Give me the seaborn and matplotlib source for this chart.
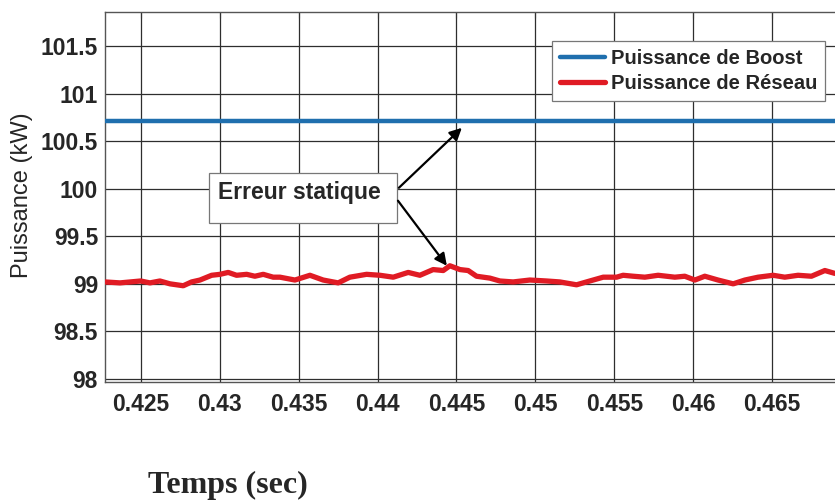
import matplotlib
matplotlib.use("Agg")
import matplotlib.pyplot as plt
from matplotlib.patches import Rectangle
import seaborn as sns
import pandas as pd

# Grid power measurement (kW) over time (s)
temps_reseau = [
    0.42272, 0.42367, 0.42498, 0.42557, 0.42620, 0.42684, 0.42768, 0.42821,
    0.42874, 0.42948, 0.43001, 0.43053, 0.43106, 0.43170, 0.43222, 0.43275,
    0.43338, 0.43381, 0.43476, 0.43571, 0.43655, 0.43750, 0.43824, 0.43930,
    0.44015, 0.44099, 0.44194, 0.44268, 0.44352, 0.44416, 0.44458, 0.44522,
    0.44574, 0.44627, 0.44712, 0.44775, 0.44859, 0.44965, 0.45071, 0.45155,
    0.45261, 0.45345, 0.45430, 0.45515, 0.45556, 0.45620, 0.45694, 0.45778,
    0.45884, 0.45947, 0.46011, 0.46074, 0.46158, 0.46254, 0.46328, 0.46412,
    0.46507, 0.46581, 0.46665, 0.46750, 0.46835, 0.46898,
]
puissance_reseau = [
    99.02, 99.01, 99.03, 99.01, 99.03, 99.00, 98.98, 99.02,
    99.04, 99.09, 99.10, 99.12, 99.09, 99.10, 99.08, 99.10,
    99.07, 99.07, 99.04, 99.09, 99.04, 99.01, 99.07, 99.10,
    99.09, 99.07, 99.12, 99.09, 99.15, 99.14, 99.19, 99.15,
    99.14, 99.08, 99.06, 99.03, 99.02, 99.04, 99.03, 99.02,
    98.99, 99.03, 99.07, 99.07, 99.09, 99.08, 99.07, 99.09,
    99.07, 99.08, 99.04, 99.08, 99.04, 99.00, 99.04, 99.07,
    99.09, 99.07, 99.09, 99.08, 99.14, 99.11,
]

# Boost converter output power (constant)
temps_boost = [0.4220, 0.4700]
puissance_boost = [100.71, 100.71]

x_ticks = [0.425, 0.43, 0.435, 0.44, 0.445, 0.45, 0.455, 0.46, 0.465]
x_tick_labels = ["0.425", "0.43", "0.435", "0.44", "0.445", "0.45", "0.455", "0.46", "0.465"]
y_ticks = [98, 98.5, 99, 99.5, 100, 100.5, 101, 101.5]
y_tick_labels = ["98", "98.5", "99", "99.5", "100", "100.5", "101", "101.5"]

label_boost = "Puissance de Boost"
label_reseau = "Puissance de Réseau"

sns.set_theme(style="white")
plt.rcParams["font.family"] = ["Liberation Sans", "DejaVu Sans"]

fig = plt.figure(figsize=(8.35, 5.03), dpi=100)
ax = fig.add_axes([105 / 835, 1 - 382 / 503, 738 / 835, 370 / 503])

df_boost = pd.DataFrame({"t": temps_boost, "p": puissance_boost})
df_reseau = pd.DataFrame({"t": temps_reseau, "p": puissance_reseau})

sns.lineplot(data=df_boost, x="t", y="p", ax=ax, color="#1f6fae",
             linewidth=3.2, label=label_boost, zorder=3)
sns.lineplot(data=df_reseau, x="t", y="p", ax=ax, color="#e01b24",
             linewidth=3.8, label=label_reseau, zorder=3)

ax.set_xlim(0.42272, 0.46950)
ax.set_ylim(97.968, 101.858)
ax.set_xticks(x_ticks)
ax.set_xticklabels(x_tick_labels, fontsize=16.5, fontweight="bold")
ax.set_yticks(y_ticks)
ax.set_yticklabels(y_tick_labels, fontsize=16.5, fontweight="bold")
ax.tick_params(axis="both", direction="in", length=4, width=0.8,
               color="#333333", top=True, right=False, pad=5)
ax.tick_params(axis="x", pad=8)

ax.grid(True, color="#2e2e2e", linewidth=0.9)
for side, sp in ax.spines.items():
    sp.set_color("#555555")
    sp.set_linewidth(1.0)
ax.spines["right"].set_visible(False)

ax.set_xlabel("")
ax.set_ylabel("")
fig.text(22 / 835, 1 - 195 / 503, "Puissance (kW)", fontsize=17,
         rotation=90, ha="center", va="center")

# Annotation box with arrows towards both curves
ax.add_patch(Rectangle((0.42931, 99.642), 0.44122 - 0.42931, 100.168 - 99.642,
                       fill=True, facecolor="white", edgecolor="#777777",
                       linewidth=0.9, zorder=4))
ax.text(0.42990, 99.96, "Erreur statique", fontsize=16.5, fontweight="bold",
        va="center", ha="left", zorder=5)
arrow_style = dict(arrowstyle="-|>", color="black", lw=1.6, mutation_scale=18,
                   shrinkA=0, shrinkB=0)
ax.annotate("", xy=(0.44534, 100.64), xytext=(0.44135, 100.01),
            arrowprops=arrow_style, zorder=5)
ax.annotate("", xy=(0.44439, 99.19), xytext=(0.44129, 99.874),
            arrowprops=arrow_style, zorder=5)

leg = ax.legend(loc="upper right", bbox_to_anchor=(825 / 835, 1 - 41 / 503),
                bbox_transform=fig.transFigure, fontsize=14.5, frameon=True,
                fancybox=False, framealpha=1, edgecolor="#777777",
                handlelength=2.2, handletextpad=0.3, labelspacing=0.3,
                borderpad=0.4, borderaxespad=0)
for t in leg.get_texts():
    t.set_fontweight("bold")
leg.get_frame().set_linewidth(0.9)

fig.text(228 / 835, 1 - 485 / 503, "Temps (sec)", fontsize=23,
         fontweight="bold", family="Liberation Serif", ha="center", va="center")

fig.savefig("out.png", dpi=100)
